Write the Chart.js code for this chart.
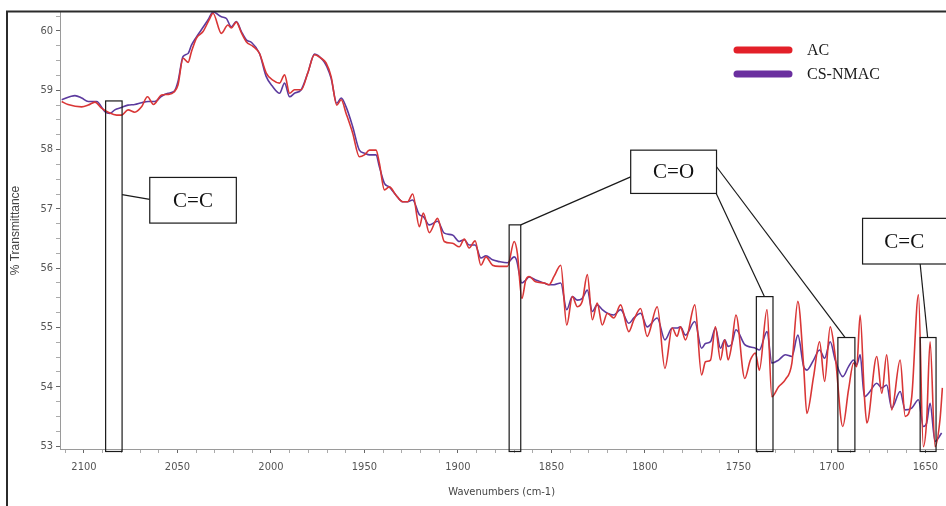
<!DOCTYPE html>
<html>
<head>
<meta charset="utf-8">
<script src="https://cdn.jsdelivr.net/npm/chart.js@4.4.1/dist/chart.umd.min.js"></script>
<style>
  html, body { margin: 0; padding: 0; background: #fff; }
  #wrap { width: 946px; height: 506px; }
</style>
</head>
<body>
<div id="wrap"><canvas id="ftir" width="946" height="506"></canvas></div>
<script>

// wavenumbers (cm-1) and % transmittance
const acWn = [
  2111.9, 2108.5, 2101.2, 2097.7, 2094.1, 2090.6, 2087.0, 2082.5, 2079.9, 2076.4,
  2072.8, 2069.2, 2066.0, 2062.8, 2058.5, 2055.0, 2051.8, 2049.7, 2047.0, 2044.3,
  2042.5, 2039.8, 2036.3, 2032.7, 2031.0, 2026.5, 2023.0, 2021.2, 2018.5, 2015.8,
  2013.2, 2009.6, 2006.1, 2002.5, 1999.0, 1995.4, 1992.7, 1990.0, 1987.4, 1983.8,
  1980.3, 1976.7, 1973.1, 1970.5, 1967.8, 1964.8, 1962.4, 1959.8, 1956.3, 1952.7,
  1950.0, 1947.3, 1943.8, 1942.0, 1939.3, 1936.7, 1933.1, 1929.6, 1926.9, 1924.2,
  1920.6, 1918.5, 1915.3, 1910.9, 1907.3, 1902.9, 1899.3, 1896.6, 1894.0, 1890.8,
  1887.7, 1885.0, 1881.5, 1877.9, 1873.5, 1869.9, 1868.2, 1865.8, 1863.7, 1861.9,
  1858.4, 1853.9, 1851.3, 1848.6, 1845.0, 1841.8, 1838.8, 1836.1, 1833.5, 1830.8,
  1828.1, 1825.5, 1822.8, 1820.1, 1816.6, 1813.0, 1808.6, 1805.9, 1802.3, 1798.8,
  1793.4, 1789.3, 1785.4, 1782.8, 1781.0, 1778.3, 1773.3, 1769.7, 1767.6, 1764.9,
  1762.3, 1759.6, 1757.3, 1755.5, 1753.7, 1751.3, 1746.6, 1743.6, 1740.9, 1738.8,
  1734.7, 1732.1, 1728.5, 1724.9, 1721.4, 1718.2, 1715.1, 1713.4, 1709.8, 1706.6,
  1703.9, 1700.9, 1698.2, 1694.2, 1691.1, 1688.4, 1686.7, 1684.9, 1682.6, 1681.3,
  1676.0, 1673.3, 1670.7, 1668.0, 1663.5, 1660.8, 1657.3, 1653.7, 1651.1, 1649.3,
  1647.5, 1644.8, 1642.2, 1640.9
];
const acT = [
  58.81, 58.76, 58.72, 58.75, 58.80, 58.70, 58.63, 58.58, 58.58, 58.67,
  58.63, 58.72, 58.89, 58.76, 58.92, 58.93, 58.97, 59.09, 59.54, 59.47,
  59.65, 59.88, 59.99, 60.21, 60.30, 59.96, 60.10, 60.05, 60.15, 59.97,
  59.82, 59.74, 59.62, 59.29, 59.17, 59.12, 59.26, 58.95, 59.01, 59.01,
  59.29, 59.60, 59.54, 59.46, 59.23, 58.75, 58.84, 58.61, 58.28, 57.88,
  57.91, 57.99, 57.99, 57.77, 57.32, 57.37, 57.23, 57.12, 57.12, 57.25,
  56.70, 56.93, 56.60, 56.84, 56.45, 56.42, 56.36, 56.49, 56.34, 56.46,
  56.05, 56.19, 56.05, 56.03, 56.03, 56.45, 56.25, 55.49, 55.80, 55.86,
  55.77, 55.75, 55.72, 55.86, 56.05, 55.04, 55.52, 55.35, 55.44, 55.89,
  55.13, 55.41, 55.04, 55.24, 55.16, 55.38, 54.93, 55.13, 55.32, 54.85,
  55.35, 54.31, 54.99, 54.85, 55.01, 54.79, 55.38, 54.20, 54.42, 54.45,
  55.01, 54.45, 54.79, 54.45, 54.68, 55.21, 54.14, 54.45, 54.57, 54.28,
  55.30, 53.83, 54.00, 54.12, 54.40, 55.44, 54.34, 53.55, 54.17, 54.76,
  54.09, 55.01, 54.51, 53.33, 53.95, 54.40, 54.34, 55.21, 53.83, 53.39,
  54.51, 53.89, 54.54, 53.61, 54.45, 53.50, 53.83, 55.55, 52.99, 53.44,
  54.76, 52.99, 53.44, 53.98
];

const nmWn = [
  2111.9, 2104.8, 2101.2, 2097.7, 2093.2, 2088.8, 2086.1, 2083.5, 2079.9, 2076.4,
  2072.8, 2069.2, 2065.7, 2062.1, 2058.5, 2055.0, 2051.8, 2049.7, 2047.0, 2044.3,
  2042.5, 2039.8, 2037.2, 2033.6, 2031.0, 2026.5, 2023.8, 2021.2, 2018.5, 2015.8,
  2013.2, 2010.5, 2006.1, 2002.5, 1999.0, 1995.4, 1992.7, 1990.0, 1987.4, 1983.8,
  1980.3, 1976.7, 1972.3, 1970.1, 1967.8, 1964.8, 1962.4, 1959.8, 1956.3, 1952.7,
  1950.0, 1947.3, 1943.8, 1942.0, 1939.3, 1936.7, 1933.1, 1929.6, 1926.9, 1924.2,
  1920.6, 1918.5, 1915.3, 1910.9, 1907.3, 1902.9, 1899.3, 1896.6, 1894.0, 1890.8,
  1887.7, 1885.0, 1881.5, 1877.9, 1873.5, 1869.9, 1868.7, 1865.8, 1863.7, 1861.9,
  1858.4, 1853.9, 1851.3, 1848.6, 1845.0, 1841.8, 1838.8, 1836.1, 1833.5, 1830.8,
  1828.1, 1825.5, 1822.8, 1820.1, 1816.6, 1813.0, 1808.6, 1805.9, 1802.3, 1798.8,
  1793.4, 1789.3, 1785.4, 1782.8, 1781.0, 1778.3, 1773.3, 1769.7, 1767.6, 1764.9,
  1762.3, 1759.6, 1757.3, 1755.5, 1753.7, 1751.3, 1746.6, 1743.6, 1740.9, 1738.8,
  1734.7, 1732.1, 1728.5, 1724.9, 1721.4, 1718.2, 1715.1, 1713.4, 1709.8, 1706.6,
  1703.9, 1700.9, 1698.2, 1694.2, 1691.1, 1688.4, 1686.7, 1684.9, 1682.6, 1680.4,
  1676.0, 1673.3, 1670.7, 1668.0, 1663.5, 1660.8, 1657.3, 1653.7, 1651.1, 1649.3,
  1647.5, 1644.8, 1641.3
];
const nmT = [
  58.84, 58.91, 58.87, 58.81, 58.81, 58.64, 58.61, 58.67, 58.71, 58.75,
  58.76, 58.79, 58.81, 58.81, 58.90, 58.95, 58.98, 59.15, 59.57, 59.62,
  59.76, 59.90, 60.02, 60.19, 60.32, 60.24, 60.21, 60.07, 60.16, 59.99,
  59.85, 59.81, 59.62, 59.23, 59.06, 58.95, 59.12, 58.89, 58.95, 59.01,
  59.29, 59.61, 59.51, 59.40, 59.20, 58.78, 58.87, 58.72, 58.39, 57.99,
  57.94, 57.91, 57.91, 57.71, 57.43, 57.37, 57.23, 57.12, 57.12, 57.15,
  56.90, 56.87, 56.73, 56.79, 56.59, 56.56, 56.45, 56.48, 56.39, 56.39,
  56.17, 56.21, 56.14, 56.11, 56.09, 56.19, 56.14, 55.75, 55.80, 55.85,
  55.80, 55.75, 55.72, 55.72, 55.75, 55.30, 55.52, 55.46, 55.49, 55.63,
  55.27, 55.38, 55.30, 55.24, 55.21, 55.30, 55.07, 55.16, 55.24, 55.01,
  55.16, 54.79, 54.99, 54.99, 55.01, 54.87, 55.10, 54.65, 54.73, 54.76,
  54.99, 54.65, 54.79, 54.68, 54.71, 54.96, 54.71, 54.67, 54.65, 54.62,
  54.93, 54.40, 54.45, 54.54, 54.51, 54.87, 54.34, 54.28, 54.45, 54.62,
  54.48, 54.76, 54.45, 54.17, 54.34, 54.45, 54.37, 54.54, 53.83, 53.89,
  54.06, 53.98, 54.03, 53.64, 53.92, 53.61, 53.64, 53.78, 53.33, 53.39,
  53.72, 53.08, 53.22
];

const xTickLabels = [2100, 2050, 2000, 1950, 1900, 1850, 1800, 1750, 1700, 1650];
const yTickLabels = [53, 54, 55, 56, 57, 58, 59, 60];

// peak markers: [from wn, to wn, top %T], they run down to the axis
const peakBoxes = [
  [2088.4, 2079.6, 58.82],
  [1872.6, 1866.4, 56.73],
  [1740.4, 1731.5, 55.52],
  [1696.8, 1687.7, 54.83],
  [1652.8, 1644.3, 54.83]
];
// callout boxes: [text, left wn, right wn, top %T, bottom %T]
const bandLabels = [
  ['C=C', 2064.8, 2018.5, 57.53, 56.76],
  ['C=O', 1807.6, 1761.7, 57.99, 57.26],
  ['C=C', 1683.6, 1637.0, 56.84, 56.07]
];
// leader lines: [wn1, %T1, wn2, %T2]
const leaders = [
  [2079.6, 57.24, 2064.8, 57.16],
  [1866.4, 56.73, 1807.6, 57.54],
  [1762.3, 57.29, 1736.1, 55.52],
  [1761.7, 57.71, 1692.9, 54.83],
  [1652.8, 56.07, 1648.8, 54.83]
];

const sansNarrow = '"Liberation Sans Narrow", "DejaVu Sans Condensed", "Arial Narrow", sans-serif';
const serif = '"Liberation Serif", "DejaVu Serif", serif';

function isWhole(v, list) {
  const r = Math.round(v);
  return Math.abs(v - r) < 1e-6 && list.includes(r);
}

const pagePlugin = {
  id: 'page',
  beforeDraw(chart) {
    const ctx = chart.ctx;
    ctx.save();
    ctx.fillStyle = '#fff';
    ctx.fillRect(0, 0, chart.width, chart.height);
    ctx.restore();
  },
  afterDraw(chart) {
    const {ctx, chartArea} = chart;
    // outer frame (left + top edge)
    ctx.save();
    ctx.strokeStyle = '#2b2b2b';
    ctx.lineWidth = 2;
    ctx.beginPath();
    ctx.moveTo(7, chart.height);
    ctx.lineTo(7, chartArea.top - 0.5);
    ctx.lineTo(chart.width, chartArea.top - 0.5);
    ctx.stroke();

    // legend
    const ds = chart.data.datasets;
    ctx.lineCap = 'round';
    ctx.lineWidth = 7;
    ctx.font = '16px ' + serif;
    ctx.textBaseline = 'middle';
    ds.forEach((d, i) => {
      const yy = 50 + i * 24;
      ctx.strokeStyle = d.legendColor;
      ctx.beginPath();
      ctx.moveTo(737, yy);
      ctx.lineTo(789, yy);
      ctx.stroke();
      ctx.fillStyle = '#1a1a1a';
      ctx.fillText(d.label, 807, yy + 1);
    });
    ctx.restore();
  }
};

const annotatePlugin = {
  id: 'annotate',
  afterDatasetsDraw(chart) {
    const {ctx, chartArea, scales: {x, y}} = chart;
    ctx.save();
    ctx.strokeStyle = '#1a1a1a';
    ctx.lineWidth = 1.2;

    leaders.forEach(([w1, t1, w2, t2]) => {
      ctx.beginPath();
      ctx.moveTo(x.getPixelForValue(w1), y.getPixelForValue(t1));
      ctx.lineTo(x.getPixelForValue(w2), y.getPixelForValue(t2));
      ctx.stroke();
    });

    peakBoxes.forEach(([a, b, top]) => {
      const x0 = x.getPixelForValue(a);
      const x1 = x.getPixelForValue(b);
      const y0 = y.getPixelForValue(top);
      ctx.strokeRect(x0, y0, x1 - x0, chartArea.bottom + 2.5 - y0);
    });

    ctx.font = '21px ' + serif;
    ctx.textAlign = 'center';
    ctx.textBaseline = 'middle';
    bandLabels.forEach(([txt, a, b, t0, t1]) => {
      const x0 = x.getPixelForValue(a);
      const x1 = x.getPixelForValue(b);
      const y0 = y.getPixelForValue(t0);
      const y1 = y.getPixelForValue(t1);
      ctx.fillStyle = '#fff';
      ctx.fillRect(x0, y0, x1 - x0, y1 - y0);
      ctx.strokeRect(x0, y0, x1 - x0, y1 - y0);
      ctx.fillStyle = '#111';
      const cx = Math.min((x0 + x1) / 2, (x0 + chart.width) / 2);
      ctx.fillText(txt, cx, (y0 + y1) / 2 + 1);
    });
    ctx.restore();
  }
};

new Chart(document.getElementById('ftir'), {
  type: 'line',
  data: {
    datasets: [
      {
        label: 'AC',
        data: acWn.map((w, i) => ({x: w, y: acT[i]})),
        borderColor: '#d93636',
        legendColor: '#e32029',
        borderWidth: 1.6,
        pointRadius: 0,
        cubicInterpolationMode: 'monotone',
        fill: false
      },
      {
        label: 'CS-NMAC',
        data: nmWn.map((w, i) => ({x: w, y: nmT[i]})),
        borderColor: '#5c3a9e',
        legendColor: '#6a2f9f',
        borderWidth: 1.6,
        pointRadius: 0,
        cubicInterpolationMode: 'monotone',
        fill: false
      }
    ]
  },
  options: {
    responsive: false,
    devicePixelRatio: 1,
    animation: false,
    events: [],
    layout: {padding: {top: 12, right: 1, bottom: 0, left: 0}},
    plugins: {
      legend: {display: false},
      tooltip: {enabled: false}
    },
    scales: {
      x: {
        type: 'linear',
        reverse: true,
        min: 1640.4,
        max: 2112.8,
        afterFit: s => { s.height = 57; },
        border: {display: true, color: '#9a9a9a', width: 1},
        grid: {
          drawOnChartArea: false,
          drawTicks: true,
          tickLength: 4,
          tickColor: c => isWhole(c.tick.value, xTickLabels) ? '#666' : '#aaa'
        },
        ticks: {
          stepSize: 10,
          includeBounds: false,
          autoSkip: false,
          maxRotation: 0,
          padding: 8,
          color: '#555',
          font: {family: sansNarrow, size: 11},
          callback: v => isWhole(v, xTickLabels) ? String(Math.round(v)) : ''
        },
        title: {
          display: true,
          text: 'Wavenumbers (cm-1)',
          color: '#444',
          font: {family: sansNarrow, size: 11},
          padding: {top: 0, bottom: 7}
        }
      },
      y: {
        min: 52.95,
        max: 60.32,
        afterFit: s => { s.width = 60; },
        border: {display: true, color: '#9a9a9a', width: 1},
        grid: {
          drawOnChartArea: false,
          drawTicks: true,
          tickLength: 4,
          tickColor: c => isWhole(c.tick.value, yTickLabels) ? '#666' : '#aaa'
        },
        ticks: {
          stepSize: 0.25,
          includeBounds: false,
          autoSkip: false,
          padding: 3,
          color: '#555',
          font: {family: sansNarrow, size: 11},
          callback: v => isWhole(v, yTickLabels) ? String(Math.round(v)) : ''
        },
        title: {
          display: true,
          text: '% Transmittance',
          color: '#444',
          font: {family: 'Liberation Sans, Arial, sans-serif', size: 12},
          padding: {top: 8, bottom: 0}
        }
      }
    }
  },
  plugins: [pagePlugin, annotatePlugin]
});
</script>
</body>
</html>
